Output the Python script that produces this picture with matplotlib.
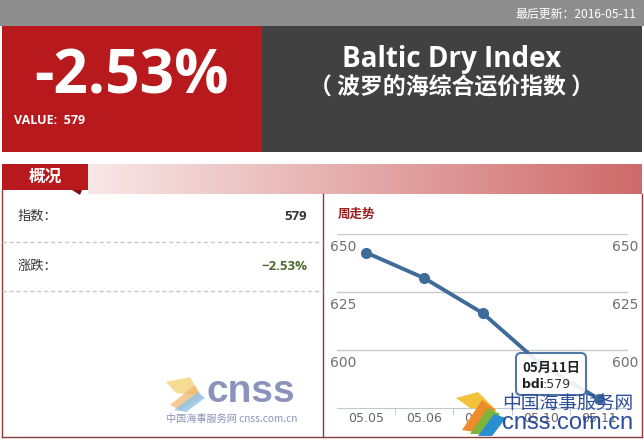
import numpy as np
import matplotlib
matplotlib.use('Agg')
import matplotlib.pyplot as plt
from matplotlib.patches import Rectangle, FancyBboxPatch, Polygon
import matplotlib.transforms as mtransforms

plt.rcParams['font.family'] = ['Noto Sans CJK SC', 'DejaVu Sans']

# data
dates = ['05.05', '05.06', '05.09', '05.10', '05.11']
bdi = [642, 631, 616, 594, 579]
yticks = [600, 625, 650]
update_date = '2016-05-11'
change_pct = '-2.53%'
last_value = 579
tip_date = '05月11日'

W, H = 644, 441
fig = plt.figure(figsize=(W / 100, H / 100), dpi=100)
fig.patch.set_facecolor('white')

bg = fig.add_axes([0, 0, 1, 1])
bg.set_xlim(0, W)
bg.set_ylim(H, 0)
bg.axis('off')

# top bar
bg.add_patch(Rectangle((0, 0), W, 26, color='#8e8e8e', lw=0))
bg.text(636, 14, '最后更新：' + update_date, color='white', fontsize=8.6,
        ha='right', va='center', family=['Noto Sans CJK SC'])

# red and dark header blocks
bg.add_patch(Rectangle((2, 26), 260, 126, color='#b8191c', lw=0))
bg.add_patch(Rectangle((262, 26), 380, 126, color='#414141', lw=0))
bg.text(132, 78, change_pct, color='white', fontsize=43.5, fontweight='bold',
        ha='center', va='center', family=['Open Sans'])
bg.text(14, 121, 'VALUE:  %d' % last_value, color='white', fontsize=9,
        fontweight='bold', ha='left', va='center', family=['Open Sans'])
bg.text(452, 60, 'Baltic Dry Index', color='white', fontsize=20,
        fontweight='bold', ha='center', va='center', family=['Open Sans'])
bg.text(452, 88, '（ 波罗的海综合运价指数 ）', color='white', fontsize=16.5,
        fontweight='bold', ha='center', va='center')

# section header with gradient
grad = np.linspace(0, 1, 256).reshape(1, -1)
cmap = matplotlib.colors.LinearSegmentedColormap.from_list('g', ['#f8e8e8', '#cf6a6a'])
bg.imshow(grad, extent=(88, 642, 194, 164), cmap=cmap, aspect='auto', zorder=1)
bg.add_patch(Rectangle((2, 164), 86, 26, color='#b8191c', lw=0, zorder=2))
bg.add_patch(Polygon([[72, 190], [82, 190], [80, 195]], color='#7a1010', lw=0, zorder=2))
bg.text(45, 177, '概况', color='white', fontsize=12, fontweight='bold',
        ha='center', va='center', zorder=3)

# box borders
bc = '#8c3a3a'
bg.plot([2, 2], [190, 437], color=bc, lw=1)
bg.plot([642, 642], [194, 437], color=bc, lw=1)
bg.plot([2, 642], [437, 437], color=bc, lw=1)
bg.plot([323, 323], [194, 437], color=bc, lw=1)

# left summary
bg.text(18, 216, '指数：', color='#333333', fontsize=9.5, ha='left', va='center')
bg.text(307, 216, str(last_value), color='#333333', fontsize=9.5, fontweight='bold',
        ha='right', va='center', family=['Open Sans'])
bg.plot([2, 323], [242, 242], color='#c8c8c8', lw=1, ls=(0, (3, 2)))
bg.text(18, 266, '涨跌：', color='#333333', fontsize=9.5, ha='left', va='center')
bg.text(307, 266, change_pct.replace('-', '−'), color='#4b6b2b', fontsize=9.5,
        fontweight='bold', ha='right', va='center', family=['Open Sans'])
bg.plot([2, 323], [291, 291], color='#c8c8c8', lw=1, ls=(0, (3, 2)))

# left watermark logo
bg.add_patch(Polygon([[166, 382], [190, 377], [200, 395], [176, 393]], color='#f4d27a', lw=0, alpha=0.8))
bg.add_patch(Polygon([[170, 405], [195, 385], [202, 398], [180, 410]], color='#f1b36a', lw=0, alpha=0.7))
bg.add_patch(Polygon([[174, 410], [198, 392], [205, 398], [186, 412]], color='#8cc4e8', lw=0, alpha=0.8))
bg.text(251, 392, 'cnss', color='#8b93bd', fontsize=28, fontweight='bold',
        ha='center', va='center', family=['Liberation Sans'])
bg.text(232, 419, '中国海事服务网 cnss.com.cn', color='#8b93bd', fontsize=7.3,
        ha='center', va='center')

# chart title
bg.text(338, 214, '周走势', color='#9b1c1c', fontsize=9, fontweight='bold',
        ha='left', va='center')

# line chart
top, bot, left, right = 234, 408.3, 337, 628
ax = fig.add_axes([left / W, 1 - bot / H, (right - left) / W, (bot - top) / H])
ax.set_facecolor('none')
x = np.arange(len(dates))
ax.plot(x, bdi, color='#3f6b9b', lw=2.8, marker='o', ms=7, zorder=3)
ax.set_xlim(-0.5, len(dates) - 0.5)
ax.set_ylim(575, 650)
for v in yticks:
    ax.axhline(v, color='#c8c8c8', lw=1, zorder=1)
for s in ['top', 'left', 'right']:
    ax.spines[s].set_visible(False)
ax.spines['bottom'].set_color('#c0c8d0')
ax.set_yticks([])
ax.set_xticks(x)
ax.set_xticklabels(dates, color='#666666', fontsize=9, family=['DejaVu Sans'])
ax.tick_params(axis='x', length=0, pad=3)
ax.set_xticks(x[:-1] + 0.5, minor=True)
ax.tick_params(axis='x', which='minor', length=5, color='#c0c8d0')
trans = mtransforms.blended_transform_factory(ax.transAxes, ax.transData)
for v in yticks:
    ax.text(-0.025, v - 2.5, str(v), transform=trans, ha='left', va='top',
            color='#707070', fontsize=10, family=['DejaVu Sans'])
    ax.text(0.945, v - 2.5, str(v), transform=trans, ha='left', va='top',
            color='#707070', fontsize=10, family=['DejaVu Sans'])

# overlay: tooltip and watermark
ov = fig.add_axes([0, 0, 1, 1], zorder=10)
ov.set_xlim(0, W)
ov.set_ylim(H, 0)
ov.axis('off')
ov.add_patch(FancyBboxPatch((516, 353), 70, 42, boxstyle='round,pad=0,rounding_size=5',
                            facecolor='white', edgecolor='#3f6b9b', lw=1.5, alpha=0.9))
ov.text(522, 368, tip_date, color='#222222', fontsize=9.5, fontweight='bold',
        ha='left', va='center')
ov.text(522, 384, 'bdi', color='#222222', fontsize=9, fontweight='bold',
        ha='left', va='center', family=['DejaVu Sans'])
ov.text(543, 384, ':%d' % bdi[-1], color='#333333', fontsize=9,
        ha='left', va='center', family=['DejaVu Sans'])

ov.add_patch(Polygon([[456, 398], [478, 392], [496, 410], [470, 408]], color='#f2c33a', lw=0))
ov.add_patch(Polygon([[462, 430], [482, 400], [496, 410], [474, 432]], color='#ee8c2c', lw=0))
ov.add_patch(Polygon([[470, 434], [488, 408], [500, 414], [484, 434]], color='#7db43c', lw=0))
ov.add_patch(Polygon([[478, 436], [494, 414], [506, 418], [492, 436]], color='#2a8fd0', lw=0))
ov.text(568, 403, '中国海事服务网', color='#2c4d9c', fontsize=13.5,
        ha='center', va='center')
ov.text(568, 423, 'cnss.com.cn', color='#2c4d9c', fontsize=17,
        ha='center', va='center', family=['Liberation Sans'])

fig.savefig('out.png', dpi=100)
